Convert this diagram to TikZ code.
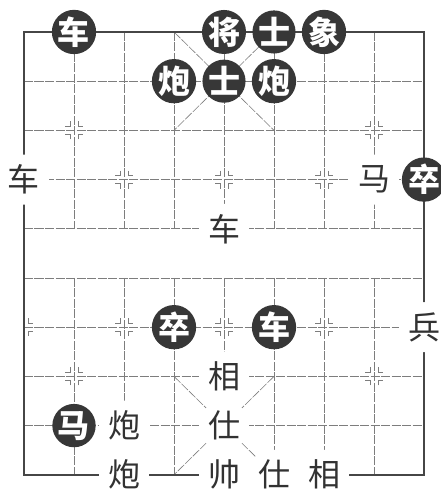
\documentclass[tikz,border=0pt]{standalone}
\usepackage{fontspec}
\newfontfamily\cjk{Noto Sans CJK SC}
\usetikzlibrary{calc}
\definecolor{boardLine}{RGB}{125,125,125}
\definecolor{boardEdge}{RGB}{70,70,70}
\definecolor{pieceDark}{RGB}{55,55,55}
\definecolor{pieceText}{RGB}{50,50,50}

\begin{document}
\begin{tikzpicture}[
  x=50pt, y=-49.2pt,
  gridline/.style={boardLine, line width=0.6pt, dash pattern=on 9pt off 1.5pt},
  boardedge/.style={boardEdge, line width=1.9pt},
  marker/.style={boardLine, line width=0.6pt},
  blackpiece/.style={
    circle,
    fill=pieceDark,
    text=white,
    minimum size=43pt,
    inner sep=0pt,
    font=\cjk\bfseries\fontsize{32}{32}\selectfont
  },
  redpiece/.style={
    circle,
    fill=white,
    text=pieceText,
    minimum size=50pt,
    inner sep=0pt,
    font=\cjk\fontsize{32}{32}\selectfont
  },
  halfmark/.pic={
    \draw[marker] (4pt,9pt) -- (4pt,4pt) -- (9pt,4pt)
                  (4pt,-9pt) -- (4pt,-4pt) -- (9pt,-4pt);
  },
  fullmark/.pic={
    \pic {halfmark};
    \pic[xscale=-1] {halfmark};
  }
]
  \useasboundingbox (-0.48,-0.65) rectangle (8.34,9.35);

  % grid
  \foreach \r in {1,...,8}
    \draw[gridline] (0,\r) -- (8,\r);
  \foreach \c in {1,...,7} {
    \draw[gridline] (\c,0) -- (\c,4);
    \draw[gridline] (\c,5) -- (\c,9);
  }
  \draw[gridline] (3,0) -- (5,2) (5,0) -- (3,2);
  \draw[gridline] (3,7) -- (5,9) (5,7) -- (3,9);
  \draw[boardedge] (0,0) rectangle (8,9);

  % position marks
  \foreach \p in {(1,2),(7,2),(2,3),(4,3),(6,3),(2,6),(4,6),(6,6),(1,7),(7,7)}
    \pic at \p {fullmark};
  \pic at (0,3) {halfmark};
  \pic at (0,6) {halfmark};
  \pic[xscale=-1] at (8,3) {halfmark};
  \pic[xscale=-1] at (8,6) {halfmark};

  % red side
  \node[redpiece] (rju1) at (0,3) {车};
  \node[redpiece] (rma) at (7,3) {马};
  \node[redpiece] (rju2) at (4,4) {车};
  \node[redpiece] (rbing) at (8,6) {兵};
  \node[redpiece] (rxiang1) at (4,7) {相};
  \node[redpiece] (rpao1) at (2,8) {炮};
  \node[redpiece] (rshi1) at (4,8) {仕};
  \node[redpiece] (rpao2) at (2,9) {炮};
  \node[redpiece] (rshuai) at (4,9) {帅};
  \node[redpiece] (rshi2) at (5,9) {仕};
  \node[redpiece] (rxiang2) at (6,9) {相};

  % black side
  \node[blackpiece] (bju1) at (1,0) {车};
  \node[blackpiece] (bjiang) at (4,0) {将};
  \node[blackpiece] (bshi1) at (5,0) {士};
  \node[blackpiece] (bxiang) at (6,0) {象};
  \node[blackpiece] (bpao1) at (3,1) {炮};
  \node[blackpiece] (bshi2) at (4,1) {士};
  \node[blackpiece] (bpao2) at (5,1) {炮};
  \node[blackpiece] (bzu1) at (8,3) {卒};
  \node[blackpiece] (bzu2) at (3,6) {卒};
  \node[blackpiece] (bju2) at (5,6) {车};
  \node[blackpiece] (bma) at (1,8) {马};
\end{tikzpicture}
\end{document}
